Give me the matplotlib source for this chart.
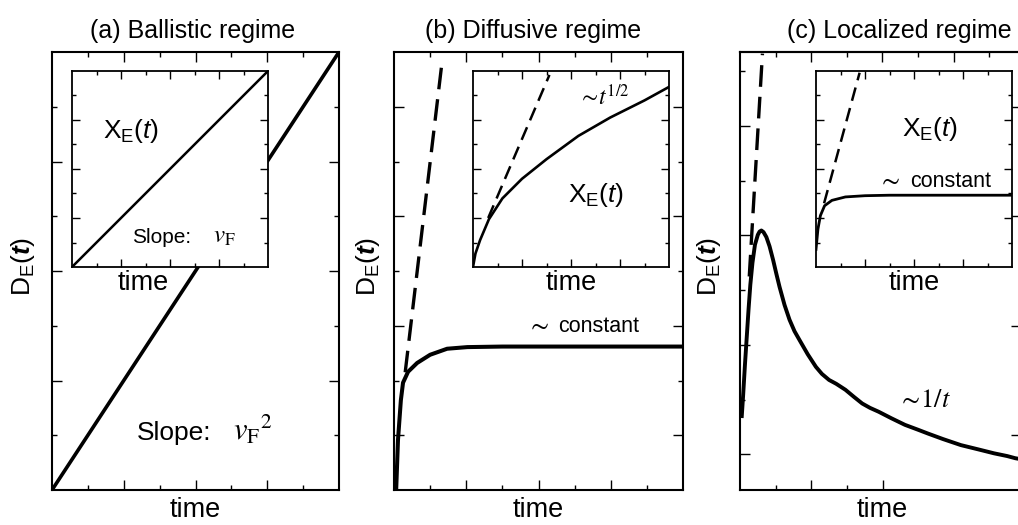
import matplotlib
matplotlib.use("Agg")
import matplotlib.pyplot as plt

plt.rcParams['font.family'] = ['Liberation Sans', 'DejaVu Sans']
plt.rcParams['mathtext.fontset'] = 'custom'
plt.rcParams['mathtext.rm'] = 'Liberation Sans'
plt.rcParams['mathtext.it'] = 'Liberation Sans:italic'
plt.rcParams['mathtext.bf'] = 'Liberation Sans:bold'
plt.rcParams['mathtext.bfit'] = 'Liberation Sans:italic:bold'

# ---------------- data (arbitrary units, axes span 0..8) ----------------
# (a) ballistic
a_main_t = [0, 8]
a_main_D = [0, 8]
a_ins_t = [0, 8]
a_ins_X = [0, 8]

# (b) diffusive
b_main_t = [0.06, 0.11, 0.19, 0.25, 0.39, 0.64, 1.0, 1.47, 2.03, 3.0, 4.5, 6.0, 8.0]
b_main_D = [0.0, 0.91, 1.64, 1.96, 2.16, 2.32, 2.47, 2.58, 2.61, 2.62, 2.62, 2.62, 2.62]
b_dash_t = [0.31, 1.33]
b_dash_D = [2.15, 7.82]
b_ins_t = [0, 0.1, 0.29, 0.65, 1.2, 2.0, 3.0, 4.3, 5.6, 7.0, 8.0]
b_ins_X = [0, 0.55, 1.1, 1.95, 2.8, 3.6, 4.4, 5.35, 6.1, 6.8, 7.35]
b_ins_dash_t = [0.62, 3.12]
b_ins_dash_X = [2.0, 7.84]

# (c) localized
c_main_t = [0.05, 0.09, 0.14, 0.19, 0.24, 0.29, 0.35, 0.42, 0.50, 0.55, 0.60, 0.66,
            0.74, 0.83, 0.93, 1.02, 1.11, 1.25, 1.39, 1.53, 1.67, 1.90, 2.13, 2.30,
            2.50, 2.70, 2.96, 3.20, 3.43, 3.65, 3.89, 4.25, 4.63, 5.00, 5.28, 5.70,
            6.20, 6.70, 7.13, 7.50, 7.73, 8.00]
c_main_D = [1.35, 1.75, 2.30, 2.80, 3.30, 3.75, 4.15, 4.48, 4.66, 4.72, 4.74, 4.71,
            4.62, 4.45, 4.20, 3.95, 3.71, 3.38, 3.11, 2.90, 2.74, 2.48, 2.25, 2.12,
            2.01, 1.94, 1.83, 1.70, 1.58, 1.50, 1.43, 1.31, 1.19, 1.10, 1.03, 0.93,
            0.82, 0.74, 0.67, 0.62, 0.58, 0.55]
c_dash_t = [0.26, 0.63]
c_dash_D = [3.9, 7.97]
c_ins_t = [0, 0.08, 0.18, 0.35, 0.65, 1.2, 2.0, 3.0, 8.0]
c_ins_X = [0.72, 1.55, 2.1, 2.5, 2.72, 2.86, 2.91, 2.93, 2.93]
c_ins_dash_t = [0.33, 1.78]
c_ins_dash_X = [2.6, 7.93]

titles = ['(a) Ballistic regime', '(b) Diffusive regime', '(c) Localized regime']
xlabel = 'time'
ylabel = r'D$_\mathrm{E}$($\mathbfit{t}$)'
inset_label = r'X$_\mathrm{E}$($\mathit{t}$)'

# ---------------- figure ----------------
W, H = 1018, 525
fig = plt.figure(figsize=(W / 100, H / 100), dpi=100)


def px_axes(left, top, right, bottom):
    return fig.add_axes([left / W, 1 - bottom / H, (right - left) / W, (bottom - top) / H])


MAIN_LW = 1.5
INS_LW = 1.3


def style(ax, xmaj, xmin, ymaj, ymin, lmaj, lmin, lw, sides=True):
    ax.set_xlim(0, 8)
    ax.set_ylim(0, 8)
    ax.set_xticks(xmaj)
    ax.set_xticks(xmin, minor=True)
    ax.set_yticks(ymaj)
    ax.set_yticks(ymin, minor=True)
    ax.tick_params(which='both', direction='in', top=sides, right=sides,
                   labelbottom=False, labelleft=False, width=1.0)
    ax.tick_params(which='major', length=lmaj)
    ax.tick_params(which='minor', length=lmin)
    for s in ax.spines.values():
        s.set_linewidth(lw)


main_boxes = [(52, 52, 339, 490), (394, 52, 683, 490), (740, 52, 1025, 490)]
ins_boxes = [(72, 71, 268, 267), (473, 71, 669, 267), (816, 71, 1012, 267)]

mains = [px_axes(*b) for b in main_boxes]
title_x = [0.49, 0.48, 0.56]
ylab_x = [-0.052, -0.042, -0.06]

for i, ax in enumerate(mains):
    ax.set_title(titles[i], fontsize=18, x=title_x[i], pad=10)
    ax.set_xlabel(xlabel, fontsize=19.5)
    ax.xaxis.set_label_coords(0.5, -0.016)
    ax.set_ylabel(ylabel, fontsize=19)
    ax.yaxis.set_label_coords(ylab_x[i], 0.51)

style(mains[0], [2, 4, 6], [1, 3, 5, 7], [2, 4, 6], [1, 3, 5, 7], 7.5, 3.8, MAIN_LW)
style(mains[1], [2, 4, 6], [1, 3, 5, 7], [1, 3, 5, 7], [2, 4, 6], 7.5, 3.8, MAIN_LW)
# (c): bottom / left ticks as in the source, top / right via secondary axes
style(mains[2], [2, 4], [1, 3], [0.65, 2.65, 4.65, 6.65], [1.65, 3.65, 5.65, 7.65],
      7.5, 3.8, MAIN_LW, sides=False)
sec_top = mains[2].secondary_xaxis('top')
sec_top.set_xticks([2, 4, 6])
sec_top.set_xticks([1, 3, 5, 7], minor=True)
sec_top.tick_params(which='both', direction='in', labeltop=False, width=1.0)
sec_top.tick_params(which='major', length=7.5)
sec_top.tick_params(which='minor', length=3.8)
sec_right = mains[2].secondary_yaxis('right')
sec_right.set_yticks([1, 3, 5, 7])
sec_right.set_yticks([2, 4, 6], minor=True)
sec_right.tick_params(which='both', direction='in', labelright=False, width=1.0)
sec_right.tick_params(which='major', length=10)
sec_right.tick_params(which='minor', length=3.8)
for sec in (sec_top, sec_right):
    for s in sec.spines.values():
        s.set_linewidth(MAIN_LW)

# main curves
mains[0].plot(a_main_t, a_main_D, color='black', lw=2.6, solid_capstyle='butt')
mains[1].plot(b_main_t, b_main_D, color='black', lw=2.9)
mains[1].plot(b_dash_t, b_dash_D, color='black', lw=2.4, ls=(0, (6.5, 3)))
mains[2].plot(c_main_t, c_main_D, color='black', lw=2.8, solid_joinstyle='round')
mains[2].plot(c_dash_t, c_dash_D, color='black', lw=2.4, ls=(0, (6.5, 3)))

# main annotations
mains[0].text(2.37, 0.91, 'Slope:', fontsize=19, va='baseline', ha='left')
mains[0].text(5.04, 0.91, r'${v_\mathrm{F}}^{2}$', fontsize=22,
              math_fontfamily='stix', va='baseline', ha='left')
mains[1].text(3.69, 2.89, r'$\sim$', fontsize=19, math_fontfamily='stix',
              va='baseline', ha='left')
mains[1].text(4.53, 2.89, 'constant', fontsize=15.5, va='baseline', ha='left')
mains[2].text(4.44, 1.52, r'$\sim\!1/t$', fontsize=19,
              math_fontfamily='stix', va='baseline', ha='left')

# insets
insets = [px_axes(*b) for b in ins_boxes]
ins_label_x = [0.362, 0.5, 0.5]
for i, ax in enumerate(insets):
    style(ax, [2, 4, 6], [1, 3, 5, 7], [2, 4, 6], [1, 3, 5, 7], 5.5, 3.0, INS_LW)
    ax.set_xlabel(xlabel, fontsize=19.5)
    ax.xaxis.set_label_coords(ins_label_x[i], -0.015)
    ax.set_facecolor('white')

insets[0].plot(a_ins_t, a_ins_X, color='black', lw=1.8)
insets[1].plot(b_ins_t, b_ins_X, color='black', lw=1.9)
insets[1].plot(b_ins_dash_t, b_ins_dash_X, color='black', lw=1.8, ls=(0, (5.5, 3)))
insets[2].plot(c_ins_t, c_ins_X, color='black', lw=2.0)
insets[2].plot(c_ins_dash_t, c_ins_dash_X, color='black', lw=1.8, ls=(0, (5.5, 3)))

insets[0].text(1.27, 5.55, inset_label, fontsize=19, va='center', ha='left')
insets[0].text(2.45, 0.98, 'Slope:', fontsize=15, va='baseline', ha='left')
insets[0].text(5.76, 0.98, r'$v_\mathrm{F}$', fontsize=18,
               math_fontfamily='stix', va='baseline', ha='left')
insets[1].text(4.29, 6.61, r'$\sim\!t^{1/2}$', fontsize=17,
               math_fontfamily='stix', va='baseline', ha='left')
insets[1].text(3.88, 2.65, inset_label, fontsize=19, va='baseline', ha='left')
insets[2].text(3.51, 5.35, inset_label, fontsize=19, va='baseline', ha='left')
insets[2].text(2.53, 3.27, r'$\sim$', fontsize=19, math_fontfamily='stix',
               va='baseline', ha='left')
insets[2].text(3.84, 3.27, 'constant', fontsize=15.5, va='baseline', ha='left')

fig.savefig('out.png', dpi=100)
